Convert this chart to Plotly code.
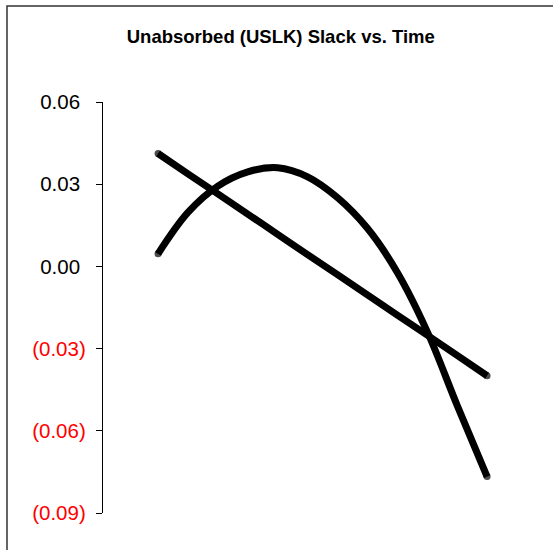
import plotly.graph_objects as go

# Time steps (x axis is not labelled in the chart)
time_steps = list(range(12))

# Unabsorbed slack: curved series
uslk_curve = [0.0046, 0.0197, 0.0293, 0.0345, 0.0360, 0.0327,
              0.0251, 0.0139, -0.0022, -0.0238, -0.0507, -0.0767]

# Straight (trend) series
uslk_trend = [0.0412, 0.0338, 0.0265, 0.0191, 0.0117, 0.0043,
              -0.0030, -0.0104, -0.0178, -0.0251, -0.0325, -0.0399]

# Y tick values and their accounting-style labels
y_tick_vals = [0.06, 0.03, 0.00, -0.03, -0.06, -0.09]
y_tick_text = ["0.06", "0.03", "0.00", "(0.03)", "(0.06)", "(0.09)"]

chart_title = "Unabsorbed (USLK) Slack vs. Time"


def fmt_tick(v, t):
    if v < 0:
        return f"<span style='color:#ff0000'>{t}</span>"
    return t + "\u00a0"


end_caps = [7] + [0] * (len(time_steps) - 2) + [7]

fig = go.Figure()
for series in (uslk_trend, uslk_curve):
    fig.add_trace(go.Scatter(
        x=time_steps, y=series, mode="lines+markers",
        line=dict(color="black", width=7, shape="spline", smoothing=1),
        marker=dict(color="black", size=end_caps, line=dict(width=0)),
        showlegend=False, hoverinfo="skip",
    ))

W, H = 553, 550
ml, mr, mt, mb = 103, 10, 102, 37
pw, ph = W - ml - mr, H - mt - mb

fig.update_layout(
    width=W, height=H,
    margin=dict(l=ml, r=mr, t=mt, b=mb),
    paper_bgcolor="white", plot_bgcolor="white",
    font=dict(family="Liberation Sans, Arial, sans-serif", color="black"),
    title=dict(text=f"<b>{chart_title}</b>", font=dict(size=18.5, color="black"),
               x=280.8 / W, xanchor="center", xref="container",
               y=1 - 36.5 / H, yanchor="middle", yref="container"),
    xaxis=dict(range=[-1.84, 12.87], visible=False, fixedrange=True),
    yaxis=dict(range=[-0.09, 0.06], tickvals=y_tick_vals,
               ticktext=[fmt_tick(v, t) for v, t in zip(y_tick_vals, y_tick_text)],
               ticks="outside", ticklen=6, tickwidth=1, tickcolor="black",
               ticklabelstandoff=6,
               showline=True, linecolor="black", linewidth=1.3,
               showgrid=False, zeroline=False,
               tickfont=dict(size=20.5, color="black"), fixedrange=True),
)

# Chart frame
fig.add_shape(type="rect", xref="paper", yref="paper",
              x0=(7 - ml) / pw, x1=(W + 10 - ml) / pw,
              y0=(H - mb - (H + 10)) / ph, y1=(H - mb - 6) / ph,
              line=dict(color="#333333", width=1.5), fillcolor="rgba(0,0,0,0)",
              layer="below")

fig.write_html("out.html")
